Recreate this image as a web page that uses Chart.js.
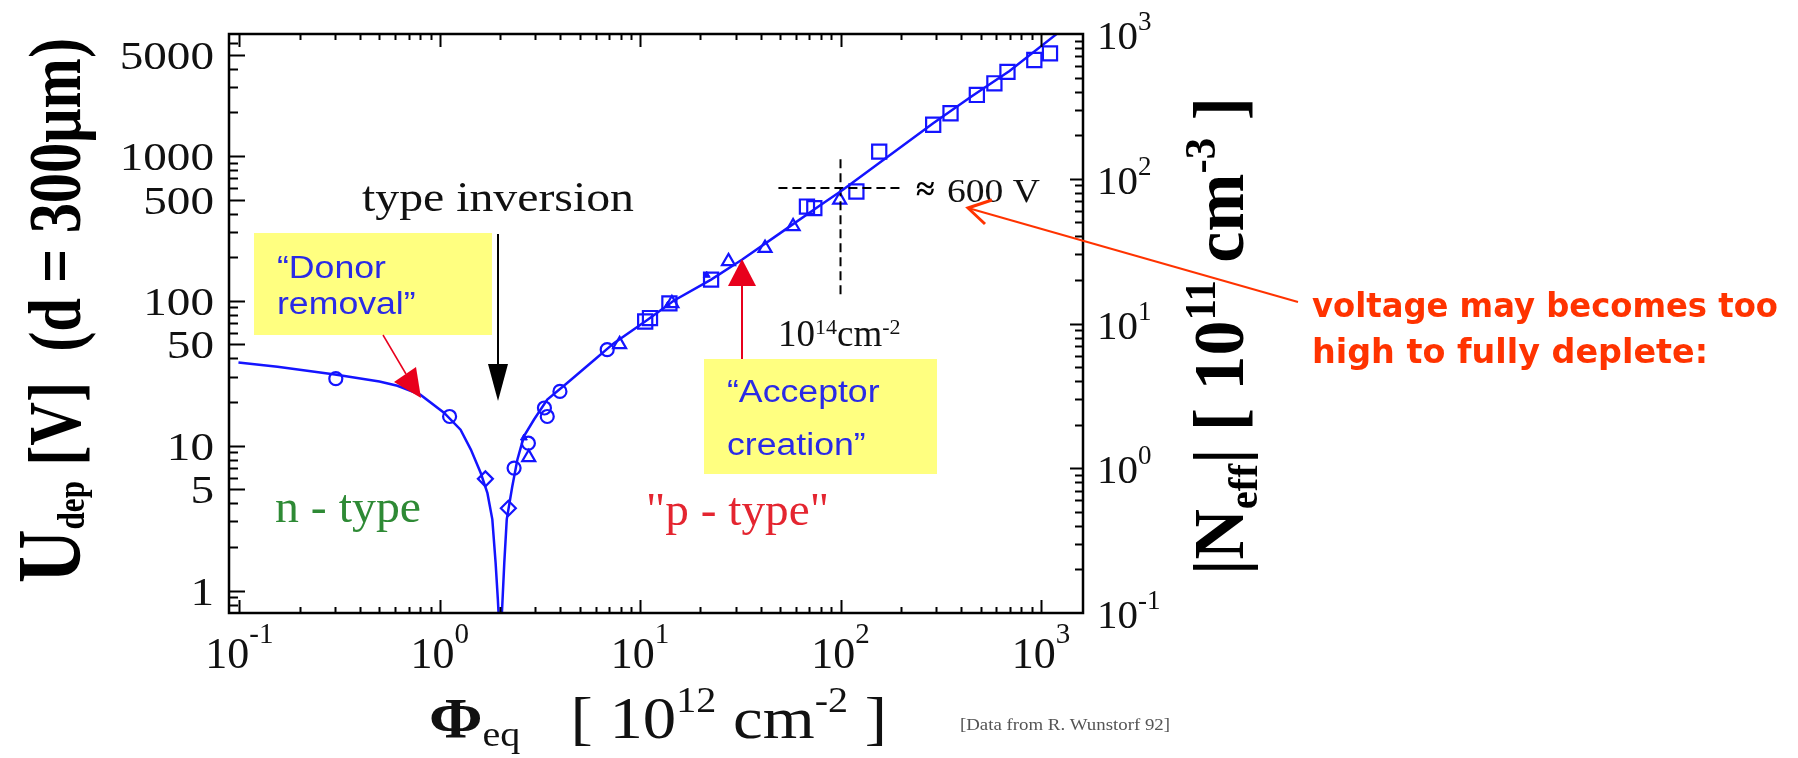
<!DOCTYPE html>
<html>
<head>
<meta charset="utf-8">
<script src="https://cdn.jsdelivr.net/npm/chart.js@4.4.1/dist/chart.umd.min.js"></script>
<style>
  html, body { margin: 0; padding: 0; background: #fff; }
  canvas { display: block; }
</style>
</head>
<body>
<canvas id="udepChart" width="1798" height="758"></canvas>
<script>
// ===== DATA =====
// fitted depletion voltage curve, fluence in 1e12 cm^-2, voltage in V
const fitPhi = [0.099, 0.155, 0.3, 0.5, 0.615, 0.8, 1.05, 1.27, 1.43, 1.6, 1.73, 1.83, 1.9, 1.95, 1.99,
  2.02, 2.1, 2.16, 2.3, 2.44, 2.63, 2.95, 3.44, 4.34, 5.9, 7.4, 10.9, 14.7, 22.6, 32.2, 50, 77.6,
  102, 150, 290, 450, 697, 1210, 1400];
const fitU = [37.5, 35, 31, 27.7, 25.9, 22.5, 16.9, 12.9, 9.4, 6.5, 4.7, 3.1, 1.56, 0.87, 0.5,
  0.5, 1.56, 3.1, 5.2, 8.0, 11.6, 15.1, 20.8, 27.2, 39, 51, 74, 100, 140, 192, 293, 447,
  580, 860, 1680, 2570, 3850, 7010, 8200];

// measured points, by marker shape
const circlePhi = [0.303, 1.12, 2.35, 2.77, 3.33, 3.44, 3.98, 6.85];
const circleU = [29, 15.9, 7.0, 10.4, 18.2, 15.9, 23.7, 46];
const diamondPhi = [1.69, 2.2];
const diamondU = [5.9, 3.7];
const trianglePhi = [2.78, 7.9, 14.4, 27.6, 42, 58, 99];
const triangleU = [8.3, 50, 96, 187, 231, 326, 497];
const squarePhi = [10.6, 11.2, 14, 22.6, 68, 74, 120, 156, 290, 354, 479, 586, 681, 927, 1110];
const squareU = [72, 76, 96, 140, 447, 436, 568, 1070, 1640, 1970, 2635, 3170, 3800, 4590, 5100];
const dotPhi = [2.63, 13.7, 21.5];
const dotU = [11.3, 93, 150];

// reference lines at 1e14 cm^-2 and ~600 V
const refPhi = 100;
const refU = 600;

// axis ticks
const xTickValues = [0.1, 1, 10, 100, 1000];
const xTickExp = ['-1', '0', '1', '2', '3'];
const leftTickValues = [1, 5, 10, 50, 100, 500, 1000, 5000];
const leftTickLabels = ['1', '5', '10', '50', '100', '500', '1000', '5000'];
const rightTickValues = [0.1, 1, 10, 100, 1000];
const rightTickExp = ['-1', '0', '1', '2', '3'];

const BLUE = '#1414ff';
const SERIF = 'Liberation Serif';
const SANS = 'Liberation Sans';

function pts(xs, ys) {
    return xs.map((x, i) => ({ x: x, y: ys[i] }));
}

// draw a row of text runs; optional rotation, stretch and fit-to-length
function drawRuns(ctx, runs, x, y, opt) {
    opt = opt || {};
    ctx.save();
    ctx.translate(x, y);
    if (opt.rot) ctx.rotate(opt.rot);
    let w = 0;
    runs.forEach(r => {
        ctx.font = r.font;
        r.w = ctx.measureText(r.t).width;
        w += r.w;
    });
    const sx = opt.len ? opt.len / w : (opt.sx || 1);
    ctx.scale(sx, opt.sy || 1);
    let cx = 0;
    if (opt.align === 'center') cx = -w / 2;
    if (opt.align === 'right') cx = -w;
    ctx.fillStyle = opt.color || '#000';
    ctx.textBaseline = 'alphabetic';
    ctx.textAlign = 'left';
    runs.forEach(r => {
        ctx.font = r.font;
        if (r.color) ctx.fillStyle = r.color;
        ctx.fillText(r.t, cx, r.dy || 0);
        cx += r.w;
    });
    ctx.restore();
}

function logSteps(min, max) {
    const out = [];
    for (let e = Math.floor(Math.log10(min)); e <= Math.ceil(Math.log10(max)); e++) {
        for (let k = 1; k <= 9; k++) {
            const v = k * Math.pow(10, e);
            if (v >= min * 1.02 && v <= max / 1.02) out.push({ v: v, k: k });
        }
    }
    return out;
}

// frame, inward tick marks and tick labels
const axesPlugin = {
    id: 'axesPlugin',
    afterDatasetsDraw(chart) {
        const { ctx, chartArea: a, scales } = chart;
        const x = scales.x, y = scales.y, y2 = scales.y2;
        ctx.save();
        ctx.strokeStyle = '#000';
        ctx.lineWidth = 2;
        ctx.beginPath();
        logSteps(x.min, x.max).forEach(t => {
            const px = Math.round(x.getPixelForValue(t.v)) + 0.5;
            const len = t.k === 1 ? 13 : 6;
            ctx.moveTo(px, a.bottom); ctx.lineTo(px, a.bottom - len);
            ctx.moveTo(px, a.top); ctx.lineTo(px, a.top + len);
        });
        logSteps(y.min, y.max).forEach(t => {
            const py = Math.round(y.getPixelForValue(t.v)) + 0.5;
            const len = (t.k === 1 || t.k === 5) ? 16 : 9;
            ctx.moveTo(a.left, py); ctx.lineTo(a.left + len, py);
        });
        logSteps(y2.min, y2.max).forEach(t => {
            const py = Math.round(y2.getPixelForValue(t.v)) + 0.5;
            const len = t.k === 1 ? 13 : 8;
            ctx.moveTo(a.right, py); ctx.lineTo(a.right - len, py);
        });
        ctx.stroke();
        ctx.lineWidth = 2.5;
        ctx.strokeRect(a.left, a.top, a.right - a.left, a.bottom - a.top);
        ctx.restore();

        // tick labels
        xTickValues.forEach((v, i) => {
            drawRuns(ctx, [
                { t: '10', font: `44px ${SERIF}` },
                { t: xTickExp[i], font: `29px ${SERIF}`, dy: -25 }
            ], x.getPixelForValue(v), a.bottom + 55, { align: 'center', color: '#111' });
        });
        leftTickValues.forEach((v, i) => {
            drawRuns(ctx, [{ t: leftTickLabels[i], font: `41px ${SERIF}` }],
                a.left - 15, y.getPixelForValue(v) + 14, { align: 'right', sx: 1.15, color: '#111' });
        });
        rightTickValues.forEach((v, i) => {
            drawRuns(ctx, [
                { t: '10', font: `41px ${SERIF}` },
                { t: rightTickExp[i], font: `27px ${SERIF}`, dy: -19 }
            ], a.right + 14, y2.getPixelForValue(v) + 15, { color: '#111' });
        });
    }
};

// annotations: titles, boxes, arrows and notes
const notesPlugin = {
    id: 'notesPlugin',
    beforeDatasetsDraw(chart) {
        const ctx = chart.ctx;
        ctx.save();
        ctx.fillStyle = '#ffff80';
        ctx.fillRect(254, 233, 238, 102);
        ctx.fillRect(704, 359, 233, 115);
        ctx.restore();
    },
    afterDraw(chart) {
        const ctx = chart.ctx;

        // axis titles
        drawRuns(ctx, [
            { t: 'U', font: `bold 76px ${SERIF}` },
            { t: 'dep', font: `bold 32px ${SERIF}`, dy: 3 },
            { t: ' [V]', font: `bold 62px ${SERIF}` },
            { t: '  (d = 300\u03bcm)', font: `bold 62px ${SERIF}` }
        ], 80, 583, { rot: -Math.PI / 2, len: 545, sy: 1.2 });

        drawRuns(ctx, [
            { t: '|', font: `bold 62px ${SERIF}` },
            { t: 'N', font: `bold 62px ${SERIF}` },
            { t: 'eff', font: `bold 36px ${SERIF}`, dy: 12 },
            { t: '|', font: `bold 62px ${SERIF}` },
            { t: ' [ 10', font: `bold 62px ${SERIF}` },
            { t: '11', font: `bold 38px ${SERIF}`, dy: -24 },
            { t: ' cm', font: `bold 62px ${SERIF}` },
            { t: '-3', font: `bold 38px ${SERIF}`, dy: -24 },
            { t: ' ]', font: `bold 62px ${SERIF}` }
        ], 1243, 575, { rot: -Math.PI / 2, len: 478, sy: 1.15 });

        drawRuns(ctx, [
            { t: '\u03a6', font: `bold 58px ${SERIF}` },
            { t: 'eq', font: `36px ${SERIF}`, dy: 8 },
            { t: '   [ 10', font: `60px ${SERIF}` },
            { t: '12', font: `36px ${SERIF}`, dy: -26 },
            { t: ' cm', font: `60px ${SERIF}` },
            { t: '-2', font: `36px ${SERIF}`, dy: -26 },
            { t: ' ]', font: `60px ${SERIF}` }
        ], 429, 738, { len: 458, color: '#111' });

        drawRuns(ctx, [{ t: '[Data from R. Wunstorf 92]', font: `16px ${SERIF}` }],
            960, 730, { len: 210, color: '#555' });

        // type inversion arrow
        drawRuns(ctx, [{ t: 'type inversion', font: `42px ${SERIF}` }], 362, 211, { len: 272, color: '#111' });
        ctx.save();
        ctx.strokeStyle = '#000';
        ctx.fillStyle = '#000';
        ctx.lineWidth = 2;
        ctx.beginPath();
        ctx.moveTo(498, 234); ctx.lineTo(498, 372);
        ctx.stroke();
        ctx.beginPath();
        ctx.moveTo(488, 364); ctx.lineTo(508, 364); ctx.lineTo(498, 401);
        ctx.closePath();
        ctx.fill();
        ctx.restore();

        // box labels
        const boxText = '#2a2ae6';
        drawRuns(ctx, [{ t: '\u201cDonor', font: `31px ${SANS}` }], 277, 278, { sx: 1.15, color: boxText });
        drawRuns(ctx, [{ t: 'removal\u201d', font: `31px ${SANS}` }], 277, 314, { sx: 1.15, color: boxText });
        drawRuns(ctx, [{ t: '\u201cAcceptor', font: `31px ${SANS}` }], 727, 402, { sx: 1.15, color: boxText });
        drawRuns(ctx, [{ t: 'creation\u201d', font: `31px ${SANS}` }], 727, 455, { sx: 1.15, color: boxText });

        // red pointers from the boxes
        ctx.save();
        ctx.strokeStyle = '#e8001c';
        ctx.fillStyle = '#e8001c';
        ctx.lineWidth = 1.5;
        ctx.beginPath();
        ctx.moveTo(383, 335); ctx.lineTo(406, 374);
        ctx.stroke();
        ctx.beginPath();
        ctx.moveTo(394, 382); ctx.lineTo(416, 367); ctx.lineTo(421, 398);
        ctx.closePath();
        ctx.fill();
        ctx.lineWidth = 2;
        ctx.beginPath();
        ctx.moveTo(742, 283); ctx.lineTo(742, 359);
        ctx.stroke();
        ctx.beginPath();
        ctx.moveTo(742, 259); ctx.lineTo(756, 286); ctx.lineTo(728, 286);
        ctx.closePath();
        ctx.fill();
        ctx.restore();

        // region labels
        drawRuns(ctx, [{ t: 'n - type', font: `46px ${SERIF}` }], 275, 522, { len: 146, color: '#2e8a35' });
        drawRuns(ctx, [{ t: '"p - type"', font: `46px ${SERIF}` }], 646, 525, { len: 183, color: '#e42530' });

        // reference point labels
        drawRuns(ctx, [
            { t: '10', font: `37px ${SERIF}` },
            { t: '14', font: `22px ${SERIF}`, dy: -12 },
            { t: 'cm', font: `37px ${SERIF}` },
            { t: '-2', font: `22px ${SERIF}`, dy: -12 }
        ], 778, 346, { color: '#111' });
        drawRuns(ctx, [{ t: '\u2248', font: `bold 34px ${SERIF}` }], 916, 200, { sx: 1.0, color: '#000' });
        drawRuns(ctx, [{ t: '600 V', font: `34px ${SERIF}` }], 947, 202, { len: 93, color: '#111' });

        // side remark with pointer
        const remark = '#ff3300';
        drawRuns(ctx, [{ t: 'voltage may becomes too', font: `bold 33px DejaVu Sans` }], 1312, 317, { len: 466, color: remark });
        drawRuns(ctx, [{ t: 'high to fully deplete:', font: `bold 33px DejaVu Sans` }], 1312, 363, { len: 396, color: remark });
        ctx.save();
        ctx.strokeStyle = remark;
        ctx.lineWidth = 2;
        ctx.beginPath();
        ctx.moveTo(1298, 302); ctx.lineTo(968, 208);
        ctx.stroke();
        ctx.lineWidth = 3;
        ctx.beginPath();
        ctx.moveTo(992, 200); ctx.lineTo(968, 208); ctx.lineTo(985, 224);
        ctx.stroke();
        ctx.restore();
    }
};

const markerBase = {
    showLine: false,
    borderColor: BLUE,
    backgroundColor: 'rgba(255,255,255,0)',
    pointBorderWidth: 2.2
};

const ctx = document.getElementById('udepChart');
new Chart(ctx, {
    type: 'scatter',
    data: {
        datasets: [
            {
                label: 'fit',
                data: pts(fitPhi, fitU),
                showLine: true,
                borderColor: BLUE,
                borderWidth: 2.5,
                pointRadius: 0,
                tension: 0,
                clip: 0
            },
            {
                label: 'dash U',
                data: [{ x: 49, y: refU }, { x: 197, y: refU }],
                showLine: true,
                borderColor: '#000',
                borderWidth: 2,
                borderDash: [9, 5],
                pointRadius: 0
            },
            {
                label: 'dash phi',
                data: [{ x: refPhi, y: 950 }, { x: refPhi, y: 107 }],
                showLine: true,
                borderColor: '#000',
                borderWidth: 2,
                borderDash: [9, 5],
                pointRadius: 0
            },
            Object.assign({ label: 'circles', data: pts(circlePhi, circleU), pointStyle: 'circle', pointRadius: 6.5 }, markerBase),
            Object.assign({ label: 'diamonds', data: pts(diamondPhi, diamondU), pointStyle: 'rectRot', pointRadius: 7.5 }, markerBase),
            Object.assign({ label: 'triangles', data: pts(trianglePhi, triangleU), pointStyle: 'triangle', pointRadius: 7.5 }, markerBase),
            Object.assign({ label: 'squares', data: pts(squarePhi, squareU), pointStyle: 'rect', pointRadius: 10 }, markerBase),
            {
                label: 'dots',
                data: pts(dotPhi, dotU),
                pointStyle: 'triangle',
                pointRadius: 4,
                backgroundColor: BLUE,
                borderColor: BLUE,
                showLine: false
            }
        ]
    },
    options: {
        responsive: false,
        animation: false,
        devicePixelRatio: 1,
        layout: { padding: { left: 229, right: 715, top: 34, bottom: 145 } },
        plugins: {
            legend: { display: false },
            tooltip: { enabled: false }
        },
        scales: {
            x: { type: 'logarithmic', min: 0.0888, max: 1622, display: false },
            y: { type: 'logarithmic', min: 0.705, max: 6940, display: false },
            y2: { type: 'logarithmic', position: 'right', min: 0.1, max: 1000, display: false }
        }
    },
    plugins: [notesPlugin, axesPlugin]
});
</script>
</body>
</html>
